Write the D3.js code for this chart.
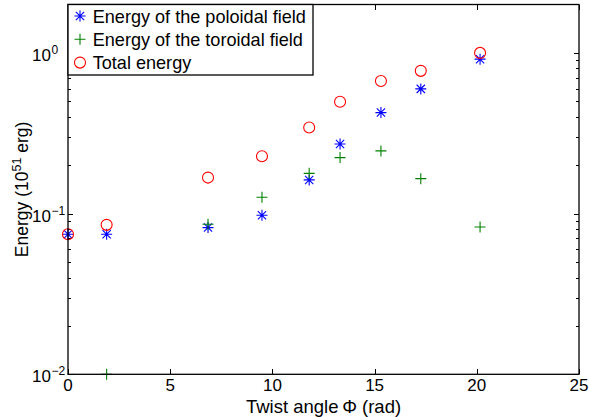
<!DOCTYPE html>
<html>
<head>
<meta charset="utf-8">
<script src="https://cdn.jsdelivr.net/npm/d3@7"></script>
<style>
  body { margin: 0; background: #fff; }
  svg { display: block; font-family: "Liberation Sans", Arial, Helvetica, sans-serif; }
</style>
</head>
<body>
<div id="main"></div>
<script>
"use strict";

// values (twist angle in rad, energies in 1e51 erg)
const twist = [0, 1.89, 6.85, 9.49, 11.8, 13.31, 15.31, 17.26, 20.16];
const poloidal = [0.0744, 0.0744, 0.0818, 0.0977, 0.162, 0.271, 0.425, 0.597, 0.914];
const toroidal = [null, 0.01, 0.0859, 0.1265, 0.178, 0.223, 0.2455, 0.165, 0.0826];
const total = [0.0744, 0.0851, 0.1675, 0.2276, 0.343, 0.496, 0.669, 0.773, 1.0];

const xTicks = [0, 5, 10, 15, 20, 25];
const yTicks = [0.01, 0.1, 1];
const yExponents = ["\u22122", "\u22121", "0"];
const legendLabels = ["Energy of the poloidal field", "Energy of the toroidal field", "Total energy"];

function main() {
    const width = 589, height = 417;
    const box = { left: 68, right: 579, top: 4.5, bottom: 374.3 };

    const svg = d3.select("#main").append("svg")
        .attr("width", width)
        .attr("height", height);

    svg.append("rect").attr("width", width).attr("height", height).attr("fill", "#fff");

    const x = d3.scaleLinear().domain([0, 25]).range([box.left, box.right]);
    const y = d3.scaleLog().domain([0.01, 2]).range([box.bottom, box.top]);

    // minor ticks for the log axis
    const minor = [];
    for (const dec of [0.01, 0.1, 1]) {
        for (let k = 2; k <= 9; k++) {
            const v = dec * k;
            if (v < 2) minor.push(v);
        }
    }

    // axes: ticks pointing inward on all four sides
    const addAxis = (axis, tx, ty) => {
        const g = svg.append("g").attr("transform", `translate(${tx},${ty})`).call(axis);
        g.select(".domain").remove();
        g.selectAll("line").attr("stroke", "#000").attr("shape-rendering", "crispEdges");
        return g;
    };
    addAxis(d3.axisBottom(x).tickValues(xTicks).tickSize(-5).tickFormat(""), 0, box.bottom);
    addAxis(d3.axisTop(x).tickValues(xTicks).tickSize(-5).tickFormat(""), 0, box.top);
    addAxis(d3.axisLeft(y).tickValues(yTicks).tickSize(-5).tickFormat(""), box.left, 0);
    addAxis(d3.axisRight(y).tickValues(yTicks).tickSize(-5).tickFormat(""), box.right, 0);
    addAxis(d3.axisLeft(y).tickValues(minor).tickSize(-3).tickFormat(""), box.left, 0);
    addAxis(d3.axisRight(y).tickValues(minor).tickSize(-3).tickFormat(""), box.right, 0);

    // x tick labels
    svg.append("g").selectAll("text").data(xTicks).join("text")
        .attr("x", d => x(d))
        .attr("y", 391)
        .attr("text-anchor", "middle")
        .attr("font-size", 17)
        .text(d => d);

    // y tick labels as 10^n
    const yl = svg.append("g").selectAll("g").data(yTicks).join("g");
    yl.append("text")
        .attr("x", 51)
        .attr("y", d => y(d) + 8)
        .attr("text-anchor", "end")
        .attr("font-size", 17)
        .text("10");
    yl.append("text")
        .attr("x", 51.5)
        .attr("y", (d, i) => y(d) + 1)
        .attr("font-size", 12)
        .text((d, i) => yExponents[i]);

    // axis titles
    svg.append("text")
        .attr("x", (box.left + box.right) / 2)
        .attr("y", 412.5)
        .attr("text-anchor", "middle")
        .attr("font-size", 18.5)
        .text("Twist angle\u2009\u03A6 (rad)");

    const yt = svg.append("text")
        .attr("transform", `translate(28,${(box.top + box.bottom) / 2}) rotate(-90)`)
        .attr("text-anchor", "middle")
        .attr("font-size", 17.5);
    yt.append("tspan").text("Energy (10");
    yt.append("tspan").attr("font-size", 12.5).attr("dy", -7).text("51");
    yt.append("tspan").attr("dy", 7).text(" erg)");

    // markers
    const star = (s) => `M${-s},0H${s}M0,${-s}V${s}M${-s * 0.75},${-s * 0.75}L${s * 0.75},${s * 0.75}M${-s * 0.75},${s * 0.75}L${s * 0.75},${-s * 0.75}`;
    const plus = (s) => `M${-s},0H${s}M0,${-s}V${s}`;

    const pts = (vals) => twist.map((t, i) => ({ t, v: vals[i] })).filter(d => d.v != null);

    svg.append("g").selectAll("path").data(pts(poloidal)).join("path")
        .attr("transform", d => `translate(${x(d.t)},${y(d.v)})`)
        .attr("d", star(5.5))
        .attr("fill", "none")
        .attr("stroke", "#0000ff")
        .attr("stroke-width", 1.1);

    svg.append("g").selectAll("path").data(pts(toroidal)).join("path")
        .attr("transform", d => `translate(${x(d.t)},${y(d.v)})`)
        .attr("d", plus(5.5))
        .attr("fill", "none")
        .attr("stroke", "#008000")
        .attr("stroke-width", 1.1);

    svg.append("g").selectAll("circle").data(pts(total)).join("circle")
        .attr("cx", d => x(d.t))
        .attr("cy", d => y(d.v))
        .attr("r", 5.5)
        .attr("fill", "none")
        .attr("stroke", "#ff0000")
        .attr("stroke-width", 1.1);

    // plot box
    svg.append("rect")
        .attr("x", box.left).attr("y", box.top)
        .attr("width", box.right - box.left).attr("height", box.bottom - box.top)
        .attr("fill", "none").attr("stroke", "#000").attr("stroke-width", 1.3);

    // legend
    const lg = svg.append("g");
    lg.append("rect")
        .attr("x", box.left).attr("y", box.top)
        .attr("width", 245).attr("height", 70.5)
        .attr("fill", "#fff").attr("stroke", "#000").attr("stroke-width", 1.3);
    const rows = lg.selectAll("g").data(legendLabels).join("g")
        .attr("transform", (d, i) => `translate(80,${16 + i * 23.3})`);
    rows.append("text")
        .attr("x", 12.7)
        .attr("y", 6.5)
        .attr("font-size", 18.1)
        .text(d => d);
    rows.filter((d, i) => i === 0).append("path").attr("d", star(5.5))
        .attr("fill", "none").attr("stroke", "#0000ff").attr("stroke-width", 1.1);
    rows.filter((d, i) => i === 1).append("path").attr("d", plus(5.5))
        .attr("fill", "none").attr("stroke", "#008000").attr("stroke-width", 1.1);
    rows.filter((d, i) => i === 2).append("circle").attr("r", 5.5)
        .attr("fill", "none").attr("stroke", "#ff0000").attr("stroke-width", 1.1);
}

main();
</script>
</body>
</html>
